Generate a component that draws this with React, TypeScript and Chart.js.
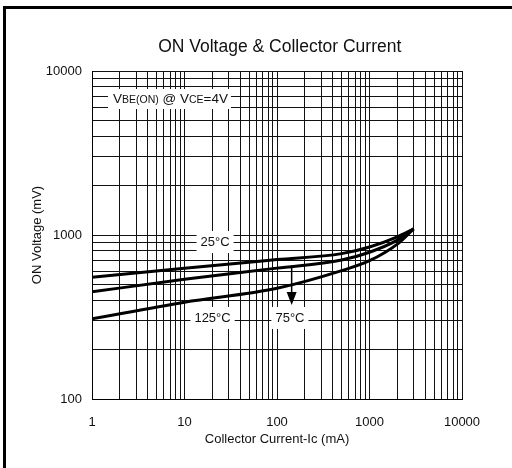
import React, { useEffect, useRef } from "react";
import { Chart, registerables } from "chart.js";

Chart.register(...registerables);

// Collector current (mA)
const currents = [1, 10, 100, 500, 1000, 2000, 3000];
// ON voltage (mV) per temperature
const v25 = [553, 627, 708, 770, 845, 975, 1090];
const v75 = [450, 537, 628, 704, 785, 930, 1090];
const v125 = [308, 389, 473, 606, 697, 880, 1090];

const seriesNames = ["25°C", "75°C", "125°C"];

const xTickLabels = [1, 10, 100, 1000, 10000];
const yTickLabels = [100, 1000, 10000];

// grid values (1..9 per decade)
const decadeSteps = [1, 2, 3, 4, 5, 6, 7, 8, 9];
const xDecades = [1, 10, 100, 1000];
const yDecades = [100, 1000];

const titleText = "ON Voltage & Collector Current";
const xTitle = "Collector Current-Ic (mA)";
const yTitle = "ON Voltage (mV)";

// annotation anchors in data space [x, y]
const titleAnchorX = 107;
const condAnchor = [7.06, 6750];
const label25Anchor = [21.4, 906];
const label125Anchor = [20.1, 312];
const label75Anchor = [138, 312];
const arrowFrom = [144, 652];
const arrowTo = [144, 374];

const FONT = "'Liberation Sans', Arial, sans-serif";

function gridValues(decades: number[], last: number) {
  const out: { value: number }[] = [];
  decades.forEach((d) => decadeSteps.forEach((s) => out.push({ value: d * s })));
  out.push({ value: last });
  return out;
}

const annotationPlugin = {
  id: "annotations",
  afterDraw(chart: any) {
    const { ctx, scales, chartArea } = chart;
    const xs = scales.x;
    const ys = scales.y;
    const px = (v: number) => xs.getPixelForValue(v);
    const py = (v: number) => ys.getPixelForValue(v);
    ctx.save();

    // title over the plot area
    ctx.textBaseline = "middle";
    ctx.textAlign = "center";
    ctx.fillStyle = "#111";
    ctx.font = `17.5px ${FONT}`;
    ctx.fillText(titleText, px(titleAnchorX), chartArea.top - 24);

    // condition label with subscripts
    const parts: [string, number][] = [
      ["V", 13.5],
      ["BE(ON)", 10.5],
      [" @ V", 13.5],
      ["CE", 10.5],
      ["=4V", 13.5],
    ];
    let total = 0;
    parts.forEach(([t, s]) => {
      ctx.font = `${s}px ${FONT}`;
      total += ctx.measureText(t).width;
    });
    const cx = px(condAnchor[0]);
    const cy = py(condAnchor[1]);
    ctx.fillStyle = "#fff";
    ctx.fillRect(cx - total / 2 - 5, cy - 10, total + 8, 20);
    ctx.fillStyle = "#111";
    let x0 = cx - total / 2;
    ctx.textAlign = "left";
    parts.forEach(([t, s]) => {
      ctx.font = `${s}px ${FONT}`;
      ctx.fillText(t, x0, cy + (s < 13 ? 0.8 : 0));
      x0 += ctx.measureText(t).width;
    });

    // temperature labels
    const labels: [string, number[]][] = [
      [seriesNames[0], label25Anchor],
      [seriesNames[2], label125Anchor],
      [seriesNames[1], label75Anchor],
    ];
    ctx.font = `13px ${FONT}`;
    labels.forEach(([t, a]) => {
      const w = ctx.measureText(t).width;
      const lx = px(a[0]);
      const ly = py(a[1]);
      ctx.fillStyle = "#fff";
      ctx.fillRect(lx - w / 2 - 4, ly - 11, w + 8, 22);
      ctx.fillStyle = "#111";
      ctx.textAlign = "center";
      ctx.fillText(t, lx, ly);
    });

    // arrow
    const ax = px(arrowFrom[0]);
    const ay1 = py(arrowFrom[1]);
    const ay2 = py(arrowTo[1]);
    ctx.strokeStyle = "#000";
    ctx.lineWidth = 1.5;
    ctx.beginPath();
    ctx.moveTo(ax, ay1);
    ctx.lineTo(ax, ay2 - 12);
    ctx.stroke();
    ctx.fillStyle = "#000";
    ctx.beginPath();
    ctx.moveTo(ax - 5, ay2 - 13);
    ctx.lineTo(ax + 5, ay2 - 13);
    ctx.lineTo(ax, ay2);
    ctx.closePath();
    ctx.fill();
    ctx.restore();
  },
};

export default function App() {
  const ref = useRef<HTMLCanvasElement | null>(null);
  useEffect(() => {
    if (!ref.current) return;
    const mk = (vals: number[]) => currents.map((c, i) => ({ x: c, y: vals[i] }));
    const lineStyle = {
      borderColor: "#000",
      borderWidth: 3,
      pointRadius: 0,
      fill: false,
      cubicInterpolationMode: "monotone" as const,
    };
    const chart = new Chart(ref.current, {
      type: "line",
      data: {
        datasets: [
          { label: seriesNames[0], data: mk(v25), ...lineStyle },
          { label: seriesNames[1], data: mk(v75), ...lineStyle },
          { label: seriesNames[2], data: mk(v125), ...lineStyle },
        ],
      },
      options: {
        animation: false,
        responsive: false,
        devicePixelRatio: 1,
        layout: { padding: { left: 0, right: 50, top: 71, bottom: 0 } },
        plugins: {
          legend: { display: false },
          tooltip: { enabled: false },
          title: { display: false },
        },
        scales: {
          x: {
            type: "logarithmic",
            min: 1,
            max: 10000,
            afterBuildTicks: (s: any) => {
              s.ticks = gridValues(xDecades, 10000);
            },
            afterFit: (s: any) => {
              s.height = 69;
            },
            grid: { color: "#111", lineWidth: 1, drawTicks: false },
            border: { display: true, color: "#000", width: 1 },
            ticks: {
              autoSkip: false,
              maxRotation: 0,
              padding: 16,
              color: "#111",
              font: { family: FONT, size: 13 },
              callback: (v: any) => (xTickLabels.includes(Number(v)) ? String(v) : ""),
            },
            title: {
              display: true,
              text: xTitle,
              color: "#111",
              font: { family: FONT, size: 13 },
              padding: { top: 0, bottom: 21 },
            },
          },
          y: {
            type: "logarithmic",
            min: 100,
            max: 10000,
            afterBuildTicks: (s: any) => {
              s.ticks = gridValues(yDecades, 10000);
            },
            afterFit: (s: any) => {
              s.width = 92;
            },
            grid: { color: "#111", lineWidth: 1, drawTicks: false },
            border: { display: true, color: "#000", width: 1 },
            ticks: {
              autoSkip: false,
              padding: 10,
              color: "#111",
              font: { family: FONT, size: 13 },
              callback: (v: any) => (yTickLabels.includes(Number(v)) ? String(v) : ""),
            },
            title: {
              display: true,
              text: yTitle,
              color: "#111",
              font: { family: FONT, size: 13 },
              padding: { top: 30, bottom: 0 },
            },
          },
        },
      },
      plugins: [annotationPlugin],
    });
    return () => chart.destroy();
  }, []);

  return (
    <div style={{ position: "absolute", left: 0, top: 0, width: 512, height: 468, background: "#fff" }}>
      <canvas ref={ref} width={512} height={468} style={{ display: "block", width: 512, height: 468 }} />
      <div
        style={{
          position: "absolute",
          left: 3,
          top: 6,
          width: 512,
          height: 470,
          borderTop: "3px solid #000",
          borderLeft: "3px solid #000",
          pointerEvents: "none",
        }}
      />
    </div>
  );
}
